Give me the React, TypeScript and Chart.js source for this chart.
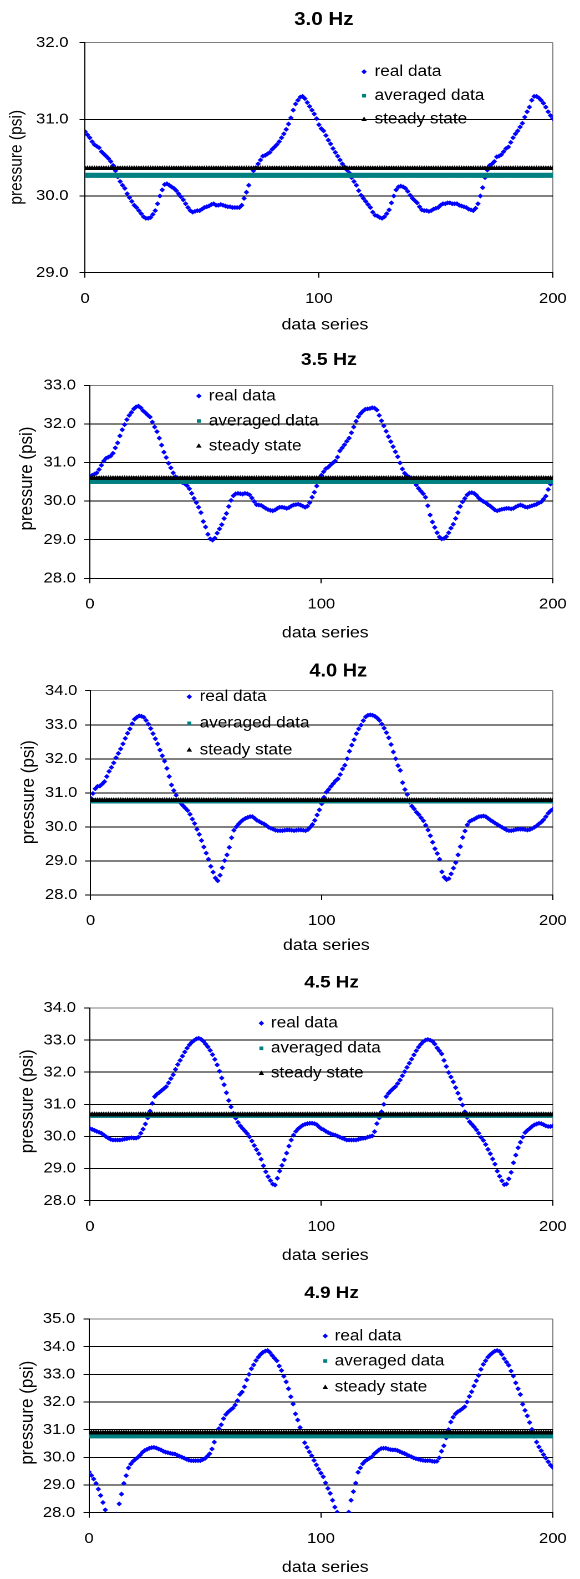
import React, { useEffect, useRef } from 'react';
import { Chart, registerables } from 'chart.js';

Chart.register(...registerables);

const FONT_FAMILY = '"Liberation Sans", Arial, Helvetica, sans-serif';
const CANVAS_W = 523; // logical drawing width, shown stretched to the page width
const PAGE_W = 580;

// ---------- data ----------
const xSeries = Array.from({ length: 201 }, (_, i) => i);

const real30 = [
  30.84, 30.80, 30.76, 30.71, 30.67, 30.65, 30.63, 30.58, 30.55, 30.52,
  30.49, 30.45, 30.40, 30.33, 30.25, 30.19, 30.14, 30.10, 30.03, 29.98,
  29.93, 29.88, 29.85, 29.81, 29.77, 29.73, 29.71, 29.71, 29.72, 29.76,
  29.81, 29.90, 30.00, 30.08, 30.15, 30.16, 30.14, 30.12, 30.10, 30.07,
  30.03, 29.99, 29.95, 29.90, 29.85, 29.81, 29.79, 29.80, 29.81, 29.81,
  29.83, 29.85, 29.86, 29.87, 29.89, 29.90, 29.88, 29.88, 29.89, 29.88,
  29.87, 29.86, 29.86, 29.85, 29.85, 29.85, 29.85, 29.88, 29.97, 30.05,
  30.14, 30.27, 30.33, 30.37, 30.42, 30.47, 30.52, 30.53, 30.55, 30.57,
  30.61, 30.64, 30.67, 30.71, 30.76, 30.81, 30.87, 30.94, 31.02, 31.12,
  31.20, 31.25, 31.29, 31.30, 31.27, 31.22, 31.17, 31.12, 31.07, 31.01,
  30.93, 30.88, 30.85, 30.79, 30.73, 30.68, 30.62, 30.57, 30.52, 30.47,
  30.42, 30.38, 30.34, 30.30, 30.24, 30.19, 30.14, 30.07, 30.01, 29.97,
  29.93, 29.89, 29.85, 29.79, 29.75, 29.74, 29.72, 29.71, 29.73, 29.77,
  29.82, 29.91, 30.00, 30.08, 30.12, 30.13, 30.12, 30.10, 30.06, 30.01,
  29.97, 29.94, 29.91, 29.86, 29.82, 29.81, 29.81, 29.80, 29.81, 29.83,
  29.84, 29.85, 29.88, 29.90, 29.90, 29.91, 29.91, 29.90, 29.90, 29.90,
  29.88, 29.87, 29.86, 29.85, 29.83, 29.82, 29.81, 29.84, 29.90, 30.00,
  30.11, 30.24, 30.34, 30.40, 30.42, 30.45, 30.51, 30.52, 30.54, 30.58,
  30.62, 30.64, 30.70, 30.76, 30.81, 30.85, 30.90, 30.95, 31.03, 31.10,
  31.16, 31.25, 31.30, 31.30, 31.28, 31.25, 31.21, 31.16, 31.10, 31.05,
  31.01,
];

const real35 = [
  30.63, 30.67, 30.70, 30.73, 30.82, 30.93, 31.04, 31.11, 31.14, 31.17,
  31.24, 31.38, 31.51, 31.69, 31.85, 31.98, 32.11, 32.22, 32.30, 32.39,
  32.44, 32.46, 32.42, 32.34, 32.29, 32.23, 32.18, 32.05, 31.92, 31.80,
  31.63, 31.45, 31.27, 31.13, 30.98, 30.86, 30.73, 30.63, 30.58, 30.53,
  30.48, 30.45, 30.40, 30.32, 30.20, 30.07, 29.96, 29.84, 29.70, 29.47,
  29.33, 29.14, 29.02, 28.99, 29.04, 29.17, 29.28, 29.39, 29.55, 29.68,
  29.86, 30.02, 30.14, 30.19, 30.20, 30.19, 30.18, 30.20, 30.19, 30.16,
  30.08, 29.99, 29.91, 29.90, 29.89, 29.85, 29.81, 29.78, 29.76, 29.75,
  29.77, 29.81, 29.84, 29.84, 29.83, 29.81, 29.83, 29.87, 29.90, 29.91,
  29.92, 29.90, 29.87, 29.84, 29.87, 29.96, 30.10, 30.23, 30.39, 30.52,
  30.67, 30.76, 30.84, 30.88, 30.94, 30.99, 31.04, 31.14, 31.30, 31.38,
  31.46, 31.55, 31.63, 31.77, 31.92, 32.07, 32.19, 32.27, 32.33, 32.38,
  32.39, 32.40, 32.42, 32.41, 32.36, 32.22, 32.08, 31.95, 31.81, 31.67,
  31.54, 31.41, 31.28, 31.15, 30.99, 30.83, 30.72, 30.66, 30.62, 30.55,
  30.50, 30.42, 30.33, 30.26, 30.19, 30.10, 29.88, 29.64, 29.46, 29.32,
  29.18, 29.07, 29.02, 29.03, 29.08, 29.18, 29.30, 29.40, 29.55, 29.70,
  29.86, 29.98, 30.07, 30.16, 30.21, 30.22, 30.20, 30.15, 30.08, 30.03,
  29.99, 29.96, 29.91, 29.87, 29.82, 29.77, 29.75, 29.77, 29.79, 29.80,
  29.81, 29.81, 29.80, 29.81, 29.85, 29.88, 29.90, 29.88, 29.85, 29.84,
  29.86, 29.88, 29.90, 29.92, 29.95, 29.98, 30.05, 30.13, 30.30, 30.44,
  30.52,
];

const real40 = [
  30.85, 30.98, 31.12, 31.19, 31.20, 31.26, 31.33, 31.48, 31.63, 31.75,
  31.88, 32.03, 32.16, 32.29, 32.44, 32.60, 32.75, 32.88, 33.03, 33.16,
  33.22, 33.26, 33.25, 33.22, 33.13, 33.02, 32.89, 32.74, 32.59, 32.44,
  32.26, 32.09, 31.93, 31.72, 31.48, 31.23, 31.07, 30.93, 30.78, 30.70,
  30.62, 30.55, 30.48, 30.37, 30.23, 30.10, 29.93, 29.78, 29.60, 29.41,
  29.23, 29.05, 28.84, 28.67, 28.50, 28.42, 28.58, 28.80, 29.01, 29.18,
  29.40, 29.68, 29.90, 30.00, 30.08, 30.15, 30.21, 30.25, 30.28, 30.30,
  30.30, 30.25, 30.19, 30.16, 30.12, 30.09, 30.04, 29.99, 29.96, 29.93,
  29.90, 29.89, 29.89, 29.89, 29.90, 29.91, 29.91, 29.90, 29.89, 29.90,
  29.91, 29.91, 29.90, 29.89, 29.92, 29.99, 30.07, 30.19, 30.35, 30.50,
  30.68, 30.87, 31.02, 31.10, 31.19, 31.27, 31.35, 31.41, 31.54, 31.70,
  31.81, 32.00, 32.22, 32.40, 32.56, 32.74, 32.88, 32.99, 33.12, 33.23,
  33.28, 33.29, 33.28, 33.25, 33.20, 33.13, 33.02, 32.90, 32.77, 32.62,
  32.42, 32.20, 32.00, 31.80, 31.66, 31.30, 31.10, 30.95, 30.73, 30.61,
  30.53, 30.43, 30.36, 30.27, 30.18, 30.05, 29.91, 29.74, 29.55, 29.36,
  29.22, 29.05, 28.68, 28.52, 28.45, 28.48, 28.62, 28.79, 28.95, 29.18,
  29.42, 29.69, 29.88, 30.06, 30.16, 30.20, 30.23, 30.27, 30.30, 30.31,
  30.32, 30.30, 30.25, 30.20, 30.16, 30.11, 30.07, 30.03, 29.99, 29.95,
  29.91, 29.89, 29.89, 29.90, 29.92, 29.93, 29.93, 29.93, 29.92, 29.91,
  29.92, 29.95, 29.99, 30.03, 30.09, 30.14, 30.21, 30.30, 30.40, 30.47,
  30.52,
];

const real45 = [
  30.25, 30.22, 30.19, 30.16, 30.13, 30.10, 30.05, 29.99, 29.95, 29.91,
  29.89, 29.89, 29.89, 29.89, 29.90, 29.92, 29.93, 29.95, 29.96, 29.95,
  29.95, 29.98, 30.10, 30.23, 30.39, 30.58, 30.79, 31.03, 31.24, 31.32,
  31.37, 31.43, 31.49, 31.55, 31.67, 31.80, 31.92, 32.09, 32.24, 32.37,
  32.50, 32.63, 32.75, 32.85, 32.93, 32.99, 33.04, 33.06, 33.03, 32.97,
  32.88, 32.79, 32.68, 32.55, 32.40, 32.23, 32.03, 31.82, 31.61, 31.36,
  31.12, 30.92, 30.72, 30.57, 30.44, 30.33, 30.25, 30.17, 30.09, 29.99,
  29.86, 29.72, 29.59, 29.46, 29.29, 29.09, 28.90, 28.75, 28.63, 28.52,
  28.49, 28.70, 28.92, 29.10, 29.27, 29.48, 29.70, 29.89, 30.04, 30.16,
  30.24, 30.30, 30.35, 30.38, 30.40, 30.41, 30.41, 30.40, 30.37, 30.30,
  30.24, 30.21, 30.16, 30.12, 30.09, 30.06, 30.04, 30.01, 29.98, 29.95,
  29.92, 29.89, 29.89, 29.89, 29.89, 29.89, 29.91, 29.93, 29.94, 29.95,
  29.98, 30.00, 30.02, 30.15, 30.40, 30.58, 30.77, 31.00, 31.24, 31.34,
  31.42, 31.49, 31.55, 31.65, 31.76, 31.89, 32.02, 32.15, 32.28, 32.41,
  32.54, 32.67, 32.78, 32.87, 32.95, 33.00, 33.02, 33.00, 32.96, 32.88,
  32.76, 32.67, 32.57, 32.37, 32.18, 31.99, 31.85, 31.70, 31.52, 31.35,
  31.17, 30.98, 30.77, 30.59, 30.46, 30.38, 30.30, 30.21, 30.10, 29.97,
  29.88, 29.75, 29.60, 29.46, 29.30, 29.14, 28.92, 28.76, 28.62, 28.50,
  28.52, 28.68, 28.88, 29.18, 29.42, 29.65, 29.82, 29.98, 30.12, 30.19,
  30.25, 30.31, 30.36, 30.39, 30.41, 30.40, 30.37, 30.33, 30.31, 30.31,
  30.33,
];

const real49 = [
  29.47, 29.35, 29.22, 29.06, 28.85, 28.62, 28.37, 28.10, 27.85, 27.65,
  27.58, 27.68, 27.95, 28.32, 28.67, 29.06, 29.34, 29.62, 29.76, 29.86,
  29.93, 30.00, 30.08, 30.18, 30.25, 30.29, 30.33, 30.35, 30.36, 30.34,
  30.30, 30.27, 30.22, 30.19, 30.17, 30.15, 30.13, 30.12, 30.08, 30.04,
  30.01, 29.97, 29.93, 29.90, 29.88, 29.88, 29.88, 29.88, 29.88, 29.92,
  29.96, 30.04, 30.13, 30.30, 30.55, 30.84, 31.04, 31.18, 31.40, 31.55,
  31.64, 31.71, 31.78, 31.89, 32.05, 32.27, 32.36, 32.55, 32.80, 33.00,
  33.20, 33.34, 33.50, 33.62, 33.72, 33.80, 33.84, 33.86, 33.79, 33.68,
  33.58, 33.49, 33.30, 33.14, 32.93, 32.73, 32.48, 32.19, 31.93, 31.57,
  31.35, 31.08, 30.79, 30.53, 30.36, 30.20, 30.06, 29.89, 29.73, 29.57,
  29.43, 29.30, 29.08, 28.88, 28.70, 28.45, 28.20, 28.02, 27.78, 27.62,
  27.60, 27.74, 28.02, 28.45, 28.76, 29.07, 29.46, 29.62, 29.77, 29.86,
  29.92, 29.97, 30.02, 30.13, 30.20, 30.27, 30.32, 30.33, 30.33, 30.30,
  30.28, 30.27, 30.27, 30.25, 30.21, 30.17, 30.14, 30.10, 30.06, 30.02,
  29.98, 29.95, 29.93, 29.91, 29.89, 29.88, 29.88, 29.88, 29.86, 29.85,
  29.86, 29.98, 30.22, 30.42, 30.70, 31.00, 31.28, 31.45, 31.57, 31.65,
  31.70, 31.76, 31.83, 32.00, 32.20, 32.37, 32.58, 32.77, 32.96, 33.18,
  33.36, 33.49, 33.62, 33.71, 33.78, 33.84, 33.86, 33.83, 33.72, 33.57,
  33.44, 33.33, 33.12, 32.94, 32.69, 32.48, 32.27, 31.92, 31.70, 31.50,
  31.26, 31.01, 30.76, 30.55, 30.38, 30.24, 30.10, 29.97, 29.84, 29.72,
  29.64,
];

const panelTitles = ['3.0 Hz', '3.5 Hz', '4.0 Hz', '4.5 Hz', '4.9 Hz'];
const realSeries = [real30, real35, real40, real45, real49];
const averagedLevels = [30.27, 30.51, 30.76, 30.66, 30.78];
const steadyLevels = [30.36, 30.59, 30.78, 30.68, 30.89];
const yAxisMin = [29, 28, 28, 28, 28];
const yAxisMax = [32, 33, 34, 34, 35];
const xAxisMin = 0;
const xAxisMax = 200;
const xAxisStep = 100;
const seriesLabels = ['real data', 'averaged data', 'steady state'];
const xAxisTitle = 'data series';
const yAxisTitle = 'pressure (psi)';

// ---------- layout (logical px; y values are page px) ----------
const panels = [
  { top: 0, height: 340, L: 76.7, R: 507.3, T: 42.7, B: 272.7, titleX: 292, titleY: 20, titleSize: 18.5,
    xTitleX: 293, xTitleY: 325, yTitleX: 15.3, yTitleY: 157.3, yTitleSize: 15.5, yPad: 10,
    legMarkX: 328.3, legTextX: 337.7, legRows: [71.7, 95.7, 119.3] },
  { top: 340, height: 310, L: 81, R: 498.7, T: 385.3, B: 578.3, titleX: 296.5, titleY: 360, titleSize: 17.5,
    xTitleX: 293.3, xTitleY: 633, yTitleX: 24.5, yTitleY: 478.5, yTitleSize: 17, yPad: 7.5,
    legMarkX: 179.3, legTextX: 188.3, legRows: [396, 421, 446] },
  { top: 650, height: 312, L: 81.7, R: 499.3, T: 690.7, B: 895, titleX: 305, titleY: 671.7, titleSize: 18,
    xTitleX: 294.3, xTitleY: 945.7, yTitleX: 26, yTitleY: 792.2, yTitleSize: 17, yPad: 7,
    legMarkX: 170.7, legTextX: 180, legRows: [696.7, 723.3, 750] },
  { top: 962, height: 310, L: 81, R: 498.7, T: 1008, B: 1200.7, titleX: 299, titleY: 982.7, titleSize: 17,
    xTitleX: 293.3, xTitleY: 1255.7, yTitleX: 25, yTitleY: 1101.3, yTitleSize: 17, yPad: 7.5,
    legMarkX: 235.7, legTextX: 244.3, legRows: [1023.3, 1048.3, 1073.3] },
  { top: 1272, height: 307, L: 80.3, R: 499, T: 1319, B: 1512.7, titleX: 299, titleY: 1293.3, titleSize: 17,
    xTitleX: 293.3, xTitleY: 1567.7, yTitleX: 25, yTitleY: 1412.7, yTitleSize: 17, yPad: 7.5,
    legMarkX: 293.3, legTextX: 301.7, legRows: [1336, 1361, 1387.3] },
];

const BLUE = '#0000ff';
const TEAL = '#008080';
const BLACK = '#000000';
const BORDER_GRAY = '#808080';

const markerStyles = ['rectRot', 'rect', 'triangle'];
const markerColors = [BLUE, TEAL, BLACK];

function drawMarker(ctx: CanvasRenderingContext2D, style: string, x: number, y: number, r: number, color: string) {
  ctx.save();
  ctx.fillStyle = color;
  ctx.beginPath();
  if (style === 'rectRot') {
    ctx.moveTo(x, y - r);
    ctx.lineTo(x + r, y);
    ctx.lineTo(x, y + r);
    ctx.lineTo(x - r, y);
  } else if (style === 'rect') {
    ctx.rect(x - r, y - r, 2 * r, 2 * r);
  } else {
    ctx.moveTo(x, y - r);
    ctx.lineTo(x + r * 0.9, y + r * 0.6);
    ctx.lineTo(x - r * 0.9, y + r * 0.6);
  }
  ctx.closePath();
  ctx.fill();
  ctx.restore();
}

function makeTextPlugin(idx: number) {
  const p = panels[idx];
  return {
    id: 'panelText' + idx,
    afterDraw(chart: any) {
      const ctx: CanvasRenderingContext2D = chart.ctx;
      const oy = p.top;
      ctx.save();
      ctx.fillStyle = BLACK;
      ctx.textBaseline = 'middle';
      ctx.textAlign = 'center';
      ctx.font = `bold ${p.titleSize}px ${FONT_FAMILY}`;
      ctx.fillText(panelTitles[idx], p.titleX, p.titleY - oy);
      ctx.font = `16px ${FONT_FAMILY}`;
      ctx.fillText(xAxisTitle, p.xTitleX, p.xTitleY - oy);
      ctx.save();
      ctx.translate(p.yTitleX, p.yTitleY - oy);
      ctx.rotate(-Math.PI / 2);
      ctx.font = `${p.yTitleSize}px ${FONT_FAMILY}`;
      ctx.fillText(yAxisTitle, 0, 0);
      ctx.restore();
      ctx.textAlign = 'left';
      ctx.font = `15.5px ${FONT_FAMILY}`;
      const legendSizes = [2.5, 1.8, 2.8];
      chart.data.datasets.forEach((ds: any, i: number) => {
        const y = p.legRows[i] - oy;
        drawMarker(ctx, markerStyles[i], p.legMarkX, y, legendSizes[i], markerColors[i]);
        ctx.fillStyle = BLACK;
        ctx.fillText(ds.label, p.legTextX, y);
      });
      ctx.restore();
    },
  };
}

function PressurePanel({ idx }: { idx: number }) {
  const ref = useRef<HTMLCanvasElement | null>(null);
  const p = panels[idx];

  useEffect(() => {
    if (!ref.current) return;
    const yMin = yAxisMin[idx];
    const yMax = yAxisMax[idx];
    const real = realSeries[idx];
    const tickFont = { family: FONT_FAMILY, size: 15 };
    const chart = new Chart(ref.current, {
      type: 'scatter',
      data: {
        datasets: [
          {
            label: seriesLabels[0],
            data: xSeries.map((x, i) => ({ x, y: real[i] })),
            showLine: false,
            pointStyle: 'rectRot',
            pointRadius: 2.5,
            pointBackgroundColor: BLUE,
            pointBorderColor: BLUE,
            pointBorderWidth: 0,
            order: 3,
          },
          {
            label: seriesLabels[1],
            data: xSeries.map((x) => ({ x, y: averagedLevels[idx] })),
            showLine: false,
            pointStyle: 'rect',
            pointRadius: 3.5,
            pointBackgroundColor: TEAL,
            pointBorderColor: TEAL,
            pointBorderWidth: 0,
            order: 2,
          },
          {
            label: seriesLabels[2],
            data: xSeries.map((x) => ({ x, y: steadyLevels[idx] })),
            showLine: false,
            pointStyle: 'triangle',
            pointRadius: 3.2,
            pointBackgroundColor: BLACK,
            pointBorderColor: BLACK,
            pointBorderWidth: 0,
            order: 1,
          },
        ],
      },
      options: {
        responsive: false,
        devicePixelRatio: 2,
        animation: false,
        events: [],
        layout: { padding: { left: 0, right: CANVAS_W - p.R, top: p.T - p.top, bottom: 0 } },
        plugins: {
          legend: { display: false },
          title: { display: false },
          tooltip: { enabled: false },
        },
        scales: {
          x: {
            type: 'linear',
            position: 'bottom',
            min: xAxisMin,
            max: xAxisMax,
            afterFit: (s: any) => { s.height = p.top + p.height - p.B; },
            ticks: {
              stepSize: xAxisStep,
              padding: 12,
              font: tickFont,
              color: BLACK,
              maxRotation: 0,
              autoSkip: false,
              callback: (v: any) => String(v),
            },
            grid: {
              color: (c: any) => (c.tick && c.tick.value === xAxisMax ? BORDER_GRAY : 'rgba(0,0,0,0)'),
              tickColor: BLACK,
              tickLength: 5,
              lineWidth: 1,
            },
            border: { display: true, color: BLACK, width: 1 },
          },
          y: {
            type: 'linear',
            min: yMin,
            max: yMax,
            afterFit: (s: any) => { s.width = p.L; },
            ticks: {
              stepSize: 1,
              padding: p.yPad,
              font: tickFont,
              color: BLACK,
              callback: (v: any) => Number(v).toFixed(1),
            },
            grid: {
              color: (c: any) => (c.tick && c.tick.value === yMax ? BORDER_GRAY : BLACK),
              tickColor: BLACK,
              tickLength: 5,
              lineWidth: 1,
            },
            border: { display: true, color: BLACK, width: 1 },
          },
        },
      },
      plugins: [makeTextPlugin(idx)],
    } as any);
    return () => chart.destroy();
  }, [idx]);

  return (
    <canvas
      ref={ref}
      width={CANVAS_W}
      height={p.height}
      style={{ position: 'absolute', left: 0, top: p.top, width: PAGE_W, height: p.height }}
    />
  );
}

export default function App() {
  return (
    <div style={{ position: 'absolute', left: 0, top: 0, width: PAGE_W, height: 1579, background: '#ffffff' }}>
      {panels.map((_, i) => (
        <PressurePanel key={i} idx={i} />
      ))}
    </div>
  );
}
